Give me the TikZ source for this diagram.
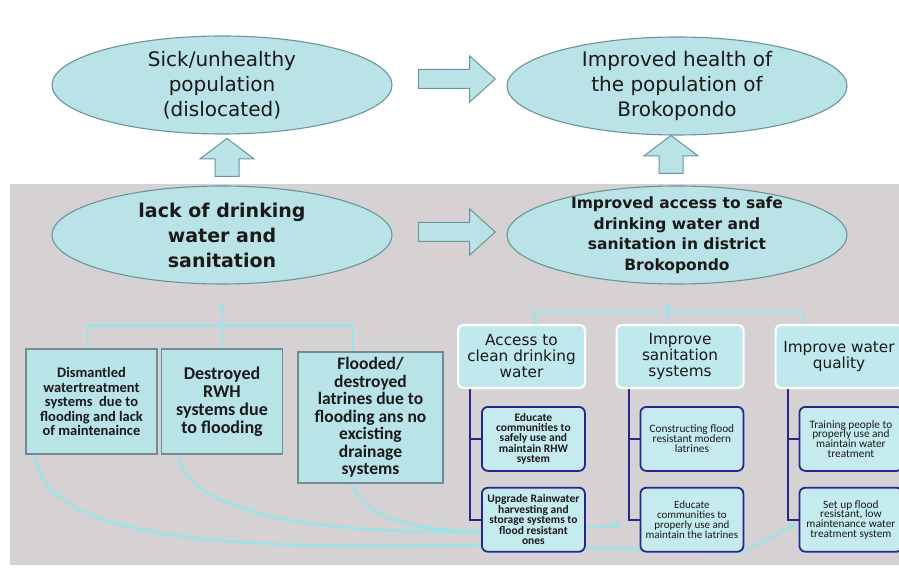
\documentclass[tikz,border=0pt]{standalone}
\usepackage{fontspec}
\setmainfont{DejaVu Sans}
\newfontfamily\boxfont{Carlito}
\usepackage{tikz}
\usetikzlibrary{shapes.geometric, shapes.arrows, arrows.meta, positioning, calc}
\definecolor{ellfill}{RGB}{186,227,231}
\definecolor{elledge}{RGB}{105,150,155}
\definecolor{bandgray}{RGB}{214,210,211}
\definecolor{boxfill}{RGB}{184,227,231}
\definecolor{boxedge}{RGB}{115,140,145}
\definecolor{hdrfill}{RGB}{192,233,237}
\definecolor{subfill}{RGB}{198,235,239}
\definecolor{subedge}{RGB}{38,38,140}
\definecolor{linkcyan}{RGB}{160,226,230}
\definecolor{txtdark}{RGB}{25,25,25}
\pgfdeclarelayer{band}
\pgfdeclarelayer{links}
\pgfsetlayers{band,links,main}
\tikzset{
  goal/.style={ellipse, draw=elledge, fill=ellfill, line width=1.1pt,
    minimum width=340pt, minimum height=98pt, inner xsep=0pt,
    inner ysep=-10pt, align=center, text=txtdark},
  bigarrow/.style={single arrow, draw=elledge, fill=ellfill, line width=1pt,
    inner sep=9pt, single arrow head extend=13.5pt, minimum height=77pt,
    single arrow tip angle=84},
  uparrow/.style={single arrow, draw=elledge, fill=ellfill, line width=1pt,
    inner sep=11.5pt, single arrow head extend=15pt, minimum height=38pt,
    single arrow tip angle=106, shape border rotate=90},
  cause/.style={rectangle, draw=boxedge, fill=boxfill, line width=1.5pt,
    align=center, inner sep=0pt, text=txtdark},
  header/.style={rectangle, rounded corners=5pt, draw=white, fill=hdrfill,
    line width=2pt, minimum width=127pt, minimum height=63pt, inner sep=0pt,
    align=center, text=txtdark, font=\fontsize{15.3}{16}\selectfont},
  action/.style={rectangle, rounded corners=6pt, draw=subedge, fill=subfill,
    line width=1.8pt, minimum width=103pt, minimum height=64pt, inner sep=0pt,
    align=center, text=txtdark, font=\boxfont\fontsize{11.3}{9.8}\selectfont},
  boldaction/.style={action, font=\boxfont\bfseries\fontsize{11.5}{9.8}\selectfont},
  cyanlink/.style={draw=linkcyan, line width=2.8pt},
  cyanarrow/.style={cyanlink, -{Stealth[length=7pt, width=8pt]}},
  bluebranch/.style={draw=subedge, line width=2pt}
}

\begin{document}
\begin{tikzpicture}[x=1pt, y=-1pt]
  \useasboundingbox (0,0) rectangle (899,569);
  \begin{pgfonlayer}{band}
    \fill[white] (0,0) rectangle (899,569);
    \fill[bandgray] (10,184) rectangle (899,565);
  \end{pgfonlayer}

  % problem and goal ellipses
  \node[goal, font=\fontsize{20}{25}\selectfont] (sick) at (222,85)
    {Sick/unhealthy\\population\\(dislocated)};
  \node[goal, font=\fontsize{20}{25}\selectfont] (health) at (677,86)
    {Improved health of\\the population of\\Brokopondo};
  \node[goal, font=\fontsize{19}{25}\selectfont\bfseries] (lack) at (222,235)
    {lack of drinking\\water and\\sanitation};
  \node[goal, font=\fontsize{15.5}{20.5}\selectfont\bfseries] (access) at (677,235)
    {Improved access to safe\\drinking water and\\sanitation in district\\Brokopondo};

  \node[bigarrow] (arrtop) at (451.5,79) {};
  \node[bigarrow] (arrmid) at (451.5,232) {};
  \node[uparrow] (uplack) at (227,162) {};
  \node[uparrow] (upaccess) at (671,159) {};

  % causes
  \node[cause, minimum width=131pt, minimum height=105pt,
    font=\boxfont\bfseries\fontsize{14.5}{14.5}\selectfont] (dismantled) at (91.5,401.5)
    {Dismantled\\watertreatment\\systems\ \ due to\\flooding and lack\\of maintenaince};
  \node[cause, minimum width=121pt, minimum height=105pt,
    font=\boxfont\bfseries\fontsize{18}{18}\selectfont] (destroyed) at (222,401.5)
    {Destroyed\\RWH\\systems due\\to flooding};
  \node[cause, minimum width=145pt, minimum height=131pt,
    font=\boxfont\bfseries\fontsize{17.5}{17.5}\selectfont] (flooded) at (370.5,417.5)
    {Flooded/\\destroyed\\latrines due to\\flooding ans no\\excisting\\drainage\\systems};

  % objectives
  \node[header] (hwater) at (521.5,356.5) {Access to\\clean drinking\\water};
  \node[header] (hsanit) at (680,356.5) {Improve\\sanitation\\systems};
  \node[header] (hquality) at (839,356.5) {Improve water\\quality};

  \node[boldaction, below=17pt of hwater.south west, anchor=north west, xshift=24pt] (educrwh)
    {Educate\\communities to\\safely use and\\maintain RHW\\system};
  \node[boldaction, below=15pt of educrwh] (upgrade)
    {Upgrade Rainwater\\harvesting and\\storage systems to\\flood resistant\\ones};
  \node[action, below=17pt of hsanit.south west, anchor=north west, xshift=24pt] (buildlat)
    {Constructing flood\\resistant modern\\latrines};
  \node[action, below=15pt of buildlat, font=\boxfont\fontsize{11}{9.8}\selectfont] (educlat)
    {Educate\\communities to\\properly use and\\maintain the latrines};
  \node[action, below=17pt of hquality.south west, anchor=north west, xshift=24pt] (training)
    {Training people to\\properly use and\\maintain water\\treatment};
  \node[action, below=15pt of training] (setup)
    {Set up flood\\resistant, low\\maintenance water\\treatment system};

  \begin{pgfonlayer}{links}
    % left tree
    \coordinate (ljoin) at ([yshift=23pt]destroyed.north);
    \draw[cyanlink] ([xshift=-4.5pt]dismantled.north) |- (ljoin)
      -| ([xshift=-17.5pt]flooded.north);
    \draw[cyanlink] (destroyed.north) -- (ljoin);
    \draw[cyanarrow] (ljoin) -- ([yshift=-17pt]lack.south);
    % right tree
    \coordinate (rjoin) at ([yshift=12pt,xshift=-12pt]hsanit.north);
    \draw[cyanlink] ([xshift=13pt]hwater.north) |- (rjoin)
      -| ([xshift=-36pt]hquality.north);
    \draw[cyanlink] ([xshift=-12pt]hsanit.north) -- (rjoin);
    \draw[cyanarrow] (rjoin) -- ([xshift=-9.5pt,yshift=-17pt]access.south);
    % action branches
    \draw[bluebranch] ([xshift=13pt]hwater.south west) |- (educrwh.west);
    \draw[bluebranch] ([xshift=13pt]hwater.south west) |- (upgrade.west);
    \draw[bluebranch] ([xshift=13pt]hsanit.south west) |- (buildlat.west);
    \draw[bluebranch] ([xshift=13pt]hsanit.south west) |- (educlat.west);
    \draw[bluebranch] ([xshift=13pt]hquality.south west) |- (training.west);
    \draw[bluebranch] ([xshift=13pt]hquality.south west) |- (setup.west);
    % causes to actions
    \draw[cyanarrow] ([xshift=18pt]destroyed.south west)
      .. controls +(8,70) and +(-110,2) .. ([yshift=-12pt]upgrade.west);
    \draw[cyanarrow] ([xshift=55pt]flooded.south west)
      .. controls +(15,50) and +(-150,15) .. ([xshift=-18pt,yshift=-5pt]educlat.west);
    \draw[cyanarrow] ([xshift=9pt]dismantled.south west)
      .. controls +(10,90) and +(-230,5) .. ([yshift=-25pt]upgrade.west)
      -- ([yshift=-32pt]educlat.east) -- ([xshift=-2pt,yshift=-4pt]setup.west);
  \end{pgfonlayer}
\end{tikzpicture}
\end{document}
